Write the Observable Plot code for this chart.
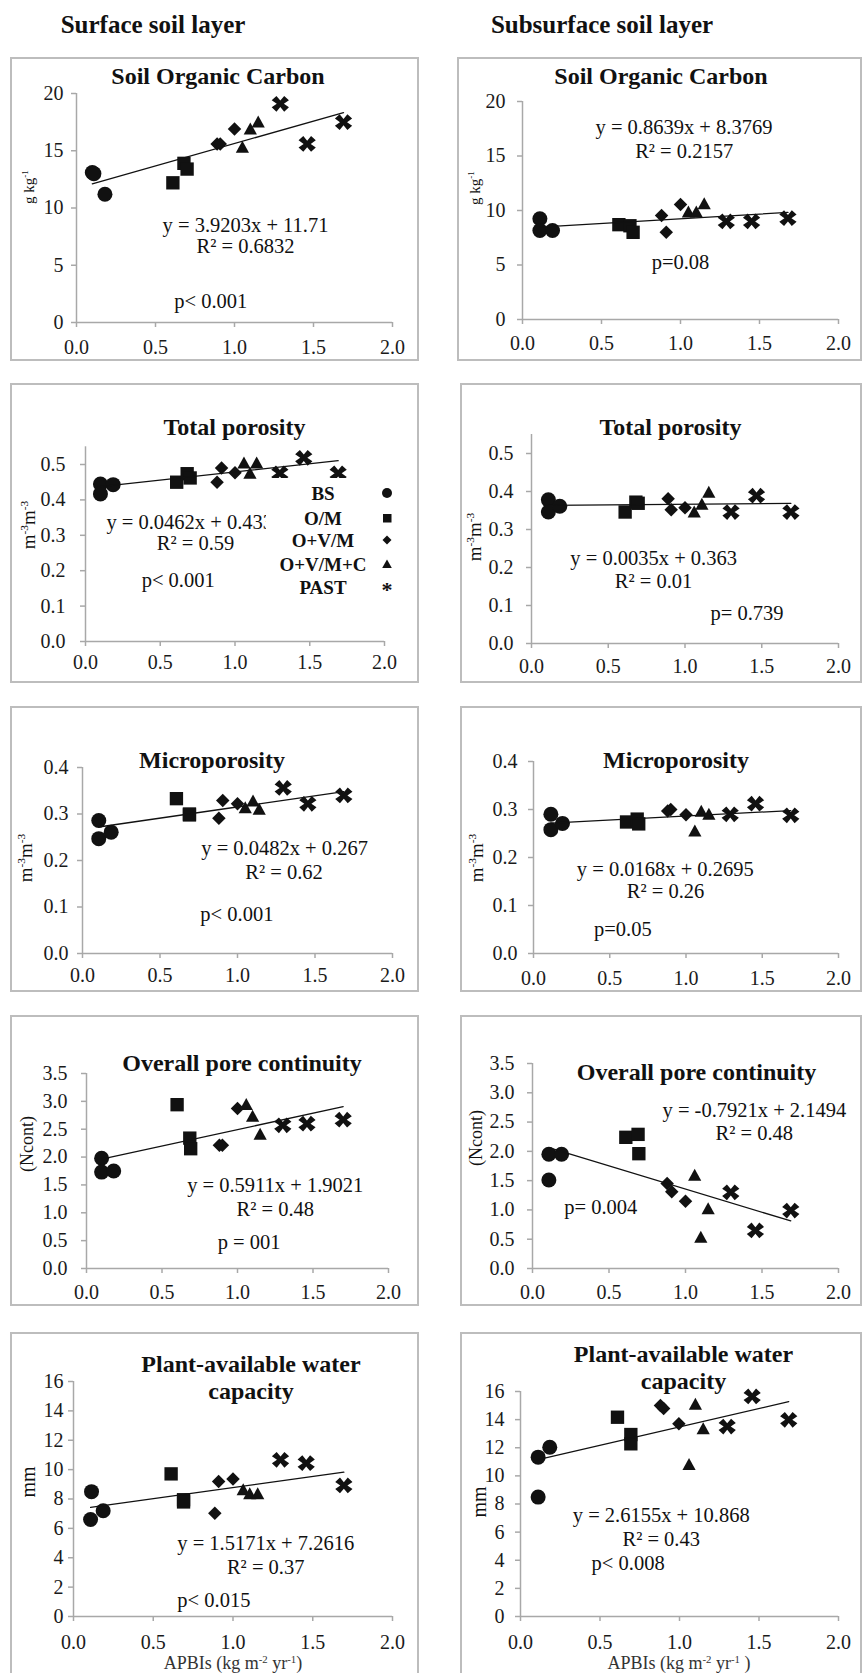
<!DOCTYPE html>
<html><head><meta charset="utf-8">
<script src="https://cdn.jsdelivr.net/npm/d3@7"></script>
<script src="https://cdn.jsdelivr.net/npm/@observablehq/plot@0.6"></script>
<style>
body{margin:0;background:#fff;}
#root{position:relative;width:862px;height:1673px;overflow:hidden;font-family:"Liberation Serif","Times New Roman",serif;color:#111;background:#fff;}
.box{position:absolute;box-sizing:border-box;border:2px solid #bdbdbd;}
.abs{position:absolute;white-space:nowrap;line-height:1;transform:translate(-50%,-50%);}
.rot{transform:translate(-50%,-50%) rotate(-90deg);}
.title{font-weight:bold;font-size:24px;}
.head{font-weight:bold;font-size:25px;}
.leg{font-weight:bold;font-size:19px;}
sup{font-size:0.6em;vertical-align:0.6em;line-height:0;}
</style></head><body><div id="root"></div>
<script>
// ---------------- DATA ----------------
const groupNames = ["BS", "O/M", "O+V/M", "O+V/M+C", "PAST"];
const groups = ["BS","BS","BS","O/M","O/M","O/M","O+V/M","O+V/M","O+V/M","O+V/M+C","O+V/M+C","O+V/M+C","PAST","PAST","PAST"];
const xTicks = [0, 0.5, 1.0, 1.5, 2.0];

// Soil organic carbon (g kg-1)
const socSurfX = [0.10, 0.18, 0.11, 0.61, 0.68, 0.70, 0.89, 0.91, 1.00, 1.05, 1.10, 1.15, 1.29, 1.46, 1.69];
const socSurfY = [13.1, 11.2, 13.0, 12.2, 13.9, 13.4, 15.6, 15.6, 16.9, 15.3, 16.9, 17.5, 19.1, 15.6, 17.5];
const socSubX  = [0.11, 0.11, 0.19, 0.61, 0.68, 0.70, 0.88, 0.91, 1.00, 1.05, 1.10, 1.15, 1.29, 1.45, 1.68];
const socSubY  = [9.24, 8.17, 8.17, 8.7, 8.6, 8.0, 9.54, 8.0, 10.55, 9.85, 9.85, 10.6, 9.0, 9.0, 9.3];
// Total porosity (m3 m-3)
const tpSurfX = [0.10, 0.10, 0.185, 0.61, 0.68, 0.70, 0.88, 0.91, 1.00, 1.06, 1.10, 1.145, 1.30, 1.46, 1.69];
const tpSurfY = [0.445, 0.417, 0.443, 0.450, 0.474, 0.462, 0.450, 0.490, 0.477, 0.504, 0.475, 0.504, 0.475, 0.519, 0.475];
const tpSubX  = [0.11, 0.11, 0.184, 0.61, 0.68, 0.695, 0.89, 0.91, 1.00, 1.06, 1.11, 1.155, 1.30, 1.466, 1.69];
const tpSubY  = [0.378, 0.346, 0.361, 0.346, 0.372, 0.369, 0.381, 0.352, 0.357, 0.346, 0.366, 0.398, 0.346, 0.389, 0.346];
// Microporosity (m3 m-3)
const mpSurfX = [0.105, 0.105, 0.185, 0.606, 0.69, 0.69, 0.88, 0.905, 1.00, 1.05, 1.10, 1.14, 1.295, 1.454, 1.686];
const mpSurfY = [0.286, 0.247, 0.261, 0.333, 0.298, 0.300, 0.291, 0.329, 0.322, 0.313, 0.328, 0.310, 0.356, 0.322, 0.340];
const mpSubX  = [0.114, 0.114, 0.19, 0.61, 0.68, 0.69, 0.88, 0.90, 1.00, 1.058, 1.10, 1.15, 1.29, 1.456, 1.687];
const mpSubY  = [0.290, 0.258, 0.271, 0.274, 0.280, 0.270, 0.297, 0.300, 0.289, 0.255, 0.296, 0.290, 0.290, 0.312, 0.288];
// Overall pore continuity (Ncont)
const pcSurfX = [0.10, 0.10, 0.18, 0.60, 0.684, 0.69, 0.88, 0.90, 1.00, 1.058, 1.10, 1.15, 1.30, 1.46, 1.70];
const pcSurfY = [1.98, 1.73, 1.75, 2.94, 2.34, 2.15, 2.21, 2.21, 2.87, 2.94, 2.73, 2.41, 2.57, 2.60, 2.67];
const pcSubX  = [0.107, 0.107, 0.19, 0.61, 0.69, 0.695, 0.88, 0.91, 1.00, 1.06, 1.10, 1.148, 1.296, 1.457, 1.688];
const pcSubY  = [1.95, 1.51, 1.95, 2.24, 2.29, 1.96, 1.45, 1.31, 1.15, 1.59, 0.53, 1.02, 1.30, 0.65, 0.99];
// Plant-available water capacity (mm)
const pawSurfX = [0.113, 0.107, 0.186, 0.612, 0.69, 0.69, 0.886, 0.91, 1.00, 1.064, 1.105, 1.155, 1.298, 1.459, 1.695];
const pawSurfY = [8.5, 6.6, 7.2, 9.71, 7.95, 7.8, 7.03, 9.19, 9.37, 8.62, 8.35, 8.35, 10.67, 10.44, 8.92];
const pawSubX  = [0.111, 0.111, 0.184, 0.61, 0.694, 0.694, 0.88, 0.90, 0.996, 1.06, 1.10, 1.149, 1.30, 1.457, 1.687];
const pawSubY  = [11.33, 8.49, 12.04, 14.17, 12.94, 12.28, 15.0, 14.8, 13.7, 10.81, 15.08, 13.35, 13.51, 15.65, 13.99];

// Trend lines (slope, intercept) as printed
const slopes     = [3.9203, 0.8639, 0.0462, 0.0035, 0.0482, 0.0168, 0.5911, -0.7921, 1.5171, 2.6155];
const intercepts = [11.71, 8.3769, 0.433, 0.363, 0.267, 0.2695, 1.9021, 2.1494, 7.2616, 10.868];
const eqLabels = ["y = 3.9203x + 11.71", "y = 0.8639x + 8.3769", "y = 0.0462x + 0.433", "y = 0.0035x + 0.363",
  "y = 0.0482x + 0.267", "y = 0.0168x + 0.2695", "y = 0.5911x + 1.9021", "y = -0.7921x + 2.1494",
  "y = 1.5171x + 7.2616", "y = 2.6155x + 10.868"];
const r2Labels = ["R² = 0.6832", "R² = 0.2157", "R² = 0.59", "R² = 0.01", "R² = 0.62", "R² = 0.26",
  "R² = 0.48", "R² = 0.48", "R² = 0.37", "R² = 0.43"];
const pLabels = ["p< 0.001", "p=0.08", "p< 0.001", "p= 0.739", "p< 0.001", "p=0.05", "p = 001", "p= 0.004", "p< 0.015", "p< 0.008"];
const titles = ["Soil Organic Carbon", "Soil Organic Carbon", "Total porosity", "Total porosity", "Microporosity", "Microporosity",
  "Overall pore continuity", "Overall pore continuity", "Plant-available water|capacity", "Plant-available water|capacity"];
const yLabels = ["g kg<sup>-1</sup>", "g kg<sup>-1</sup>", "m<sup>-3</sup>m<sup>-3</sup>", "m<sup>-3</sup>m<sup>-3</sup>",
  "m<sup>-3</sup>m<sup>-3</sup>", "m<sup>-3</sup>m<sup>-3</sup>", "(Ncont)", "(Ncont)", "mm", "mm"];
const headers = ["Surface soil layer", "Subsurface soil layer"];
const xLabels = ["APBIs (kg m<sup>-2</sup> yr<sup>-1</sup>)", "APBIs (kg m<sup>-2</sup> yr<sup>-1</sup> )"];

// ---------------- LAYOUT ----------------
const seriesX = [socSurfX, socSubX, tpSurfX, tpSubX, mpSurfX, mpSubX, pcSurfX, pcSubX, pawSurfX, pawSubX];
const seriesY = [socSurfY, socSubY, tpSurfY, tpSubY, mpSurfY, mpSubY, pcSurfY, pcSubY, pawSurfY, pawSubY];
const layout = [
  {box:[10,57,419,361], x0:76, x2:392, yTop:93, y0:322, ydom:[0,20], yticks:[0,5,10,15,20], yfmt:"d", yPad:8, xPad:12,
   eq:[1.07,8.5,"middle"], r2:[1.07,6.6], p:[0.85,1.8], title:[218,76], ylab:[29,187,15]},
  {box:[457,57,862,361], x0:522, x2:838, yTop:101, y0:319, ydom:[0,20], yticks:[0,5,10,15,20], yfmt:"d", yPad:12, xPad:11,
   eq:[1.022,17.64,"middle"], r2:[1.023,15.44], p:[1.0,5.26], title:[661,76], ylab:[475,188,15]},
  {box:[10,383,419,683], x0:85, x2:384, yTop:446.3, y0:641, ydom:[0,0.55], yticks:[0,0.1,0.2,0.3,0.4,0.5], yfmt:".1f", yPad:15, xPad:8.5,
   eq:[0.14,0.337,"start"], r2:[0.736,0.276], p:[0.62,0.172], title:[234.5,427], ylab:[27.5,525,19]},
  {box:[460,383,862,683], x0:531, x2:838, yTop:434, y0:643, ydom:[0,0.55], yticks:[0,0.1,0.2,0.3,0.4,0.5], yfmt:".1f", yPad:13, xPad:10.5,
   eq:[0.796,0.223,"middle"], r2:[0.795,0.164], p:[1.404,0.08], title:[670.5,427], ylab:[474,537,19]},
  {box:[10,706,419,992], x0:82, x2:392, yTop:767, y0:953, ydom:[0,0.4], yticks:[0,0.1,0.2,0.3,0.4], yfmt:".1f", yPad:9, xPad:9.5,
   eq:[1.304,0.225,"middle"], r2:[1.30,0.175], p:[0.996,0.085], title:[212,759.5], ylab:[25,858,19]},
  {box:[460,706,862,992], x0:533, x2:838, yTop:761, y0:953, ydom:[0,0.4], yticks:[0,0.1,0.2,0.3,0.4], yfmt:".1f", yPad:11, xPad:12.5,
   eq:[0.864,0.176,"middle"], r2:[0.866,0.13], p:[0.586,0.051], title:[676,759.5], ylab:[476,858,19]},
  {box:[10,1015,419,1306], x0:86, x2:388, yTop:1073, y0:1268, ydom:[0,3.5], yticks:[0,0.5,1,1.5,2,2.5,3,3.5], yfmt:".1f", yPad:14, xPad:11.5,
   eq:[1.25,1.49,"middle"], r2:[1.25,1.06], p:[1.077,0.47], title:[242,1063], ylab:[26.7,1144,18]},
  {box:[460,1015,862,1306], x0:532, x2:838, yTop:1063, y0:1268, ydom:[0,3.5], yticks:[0,0.5,1,1.5,2,2.5,3,3.5], yfmt:".1f", yPad:13, xPad:11.3,
   eq:[1.45,2.70,"middle"], r2:[1.45,2.30], p:[0.446,1.05], title:[696.5,1072], ylab:[476,1138,18]},
  {box:[10,1332,419,1690], x0:73, x2:392, yTop:1381, y0:1616, ydom:[0,16], yticks:[0,2,4,6,8,10,12,14,16], yfmt:"d", yPad:5, xPad:13.3,
   eq:[1.205,4.95,"middle"], r2:[1.205,3.36], p:[0.88,1.09], title:[251,1364,1391], ylab:[27.5,1482,20], xlab:[233,1663]},
  {box:[460,1332,862,1690], x0:520, x2:838, yTop:1391, y0:1616, ydom:[0,16], yticks:[0,2,4,6,8,10,12,14,16], yfmt:"d", yPad:11, xPad:13.3,
   eq:[0.885,7.18,"middle"], r2:[0.885,5.45], p:[0.677,3.75], title:[683.5,1354,1381], ylab:[478.5,1502,20], xlab:[679,1663]}
];
const headerPos = [[153,23.5],[602,23.5]];
const legendPos = {box:[266,478,136,122], labelX:323, symX:387, rows:[493,518,540,564,587]};

// ---------------- SYMBOLS ----------------
const symCircle = {draw(c, s){const r=Math.sqrt(s/Math.PI); c.moveTo(r,0); c.arc(0,0,r,0,2*Math.PI);}};
const symSquare = {draw(c, s){const r=Math.sqrt(s/Math.PI)*0.89; c.rect(-r,-r,2*r,2*r);}};
const symDiamond = {draw(c, s){const r=Math.sqrt(s/Math.PI)*0.9; c.moveTo(0,-r); c.lineTo(r,0); c.lineTo(0,r); c.lineTo(-r,0); c.closePath();}};
const symTriangle = {draw(c, s){const r=Math.sqrt(s/Math.PI); c.moveTo(0,-0.88*r); c.lineTo(0.88*r,0.72*r); c.lineTo(-0.88*r,0.72*r); c.closePath();}};
const symX = {draw(c, s){const r=Math.sqrt(s/Math.PI), sx=r*1.15, sy=r*1.05, a=0.55;
  const pts=[[-1,-1+a],[-1+a,-1],[0,-a*0.75],[1-a,-1],[1,-1+a],[a*0.75,0],[1,1-a],[1-a,1],[0,a*0.75],[-1+a,1],[-1,1-a],[-a*0.75,0]];
  c.moveTo(pts[0][0]*sx, pts[0][1]*sy); for (let i=1;i<pts.length;i++) c.lineTo(pts[i][0]*sx, pts[i][1]*sy); c.closePath();}};
const symbolFor = {"BS": symCircle, "O/M": symSquare, "O+V/M": symDiamond, "O+V/M+C": symTriangle, "PAST": symX};

// ---------------- DRAW ----------------
const root = document.getElementById("root");
const axisGrey = "#a8a8a8";
const serif = '"Liberation Serif","Times New Roman",serif';
function addText(html, x, y, cls, extra) {
  const d = document.createElement("div");
  d.className = "abs " + (cls || "");
  d.innerHTML = html;
  d.style.left = x + "px"; d.style.top = y + "px";
  if (extra) Object.assign(d.style, extra);
  root.appendChild(d);
  return d;
}

layout.forEach((L, i) => {
  const [bl, bt, br, bb] = L.box;
  const box = document.createElement("div");
  box.className = "box";
  Object.assign(box.style, {left: bl+"px", top: bt+"px", width: (br-bl)+"px", height: (bb-bt)+"px"});
  root.appendChild(box);

  const data = seriesX[i].map((x, j) => ({x, y: seriesY[i][j], g: groups[j]}));
  const ext = d3.extent(seriesX[i]);
  const trend = ext.map(x => ({x, y: slopes[i]*x + intercepts[i]}));
  const marks = [
    Plot.ruleX([0], {stroke: axisGrey, strokeWidth: 1.5}),
    Plot.ruleY([0], {stroke: axisGrey, strokeWidth: 1.5}),
    Plot.axisX({ticks: xTicks, tickFormat: d3.format(".1f"), tickSize: 5, tickPadding: L.xPad, stroke: axisGrey, strokeWidth: 1.5, fill: "#1a1a1a", fontSize: 20, fontFamily: serif, label: null}),
    Plot.axisY({ticks: L.yticks, tickFormat: d3.format(L.yfmt), tickSize: 5, tickPadding: L.yPad, stroke: axisGrey, strokeWidth: 1.5, fill: "#1a1a1a", fontSize: 20, fontFamily: serif, label: null}),
    ...groupNames.map(gn => Plot.dot(data.filter(d => d.g === gn), {x: "x", y: "y", r: 7.5, symbol: symbolFor[gn], fill: "#111", stroke: "none"})),
    Plot.line(trend, {x: "x", y: "y", stroke: "#111", strokeWidth: 1.3}),
    Plot.text([{x: L.eq[0], y: L.eq[1], t: eqLabels[i]}], {x: "x", y: "y", text: "t", textAnchor: L.eq[2], fontSize: 20.5, fontFamily: serif, fill: "#111"}),
    Plot.text([{x: L.r2[0], y: L.r2[1], t: r2Labels[i]}], {x: "x", y: "y", text: "t", fontSize: 20.5, fontFamily: serif, fill: "#111"}),
    Plot.text([{x: L.p[0], y: L.p[1], t: pLabels[i]}], {x: "x", y: "y", text: "t", fontSize: 20.5, fontFamily: serif, fill: "#111"})
  ];
  const svg = Plot.plot({
    width: br - bl, height: bb - bt,
    marginLeft: L.x0 - bl, marginRight: br - L.x2, marginTop: L.yTop - bt, marginBottom: bb - L.y0,
    x: {domain: [0, 2]}, y: {domain: L.ydom},
    style: 'font-family: "Liberation Serif","Times New Roman",serif; background: transparent; overflow: visible;',
    marks
  });
  Object.assign(svg.style, {position: "absolute", left: bl + "px", top: bt + "px"});
  root.appendChild(svg);

  // title
  const tparts = titles[i].split("|");
  if (tparts.length === 1) addText(tparts[0], L.title[0], L.title[1], "title");
  else { addText(tparts[0], L.title[0], L.title[1], "title"); addText(tparts[1], L.title[0], L.title[2], "title"); }
  // y label
  addText(yLabels[i], L.ylab[0], L.ylab[1], "rot", {fontSize: L.ylab[2] + "px"});
  if (L.xlab) addText(xLabels[i - 8], L.xlab[0], L.xlab[1], "", {fontSize: "18px", color: "#333"});
});

headers.forEach((h, i) => addText(h, headerPos[i][0], headerPos[i][1], "head"));

// legend (in Total porosity surface panel)
const lg = document.createElement("div");
Object.assign(lg.style, {position: "absolute", left: legendPos.box[0]+"px", top: legendPos.box[1]+"px", width: legendPos.box[2]+"px", height: legendPos.box[3]+"px", background: "#fff"});
root.appendChild(lg);
const legSvg = {
  "BS": '<circle cx="6" cy="6" r="5"/>',
  "O/M": '<rect x="2" y="2" width="8.5" height="8.5"/>',
  "O+V/M": '<path d="M6,1.5L10.5,6L6,10.5L1.5,6Z"/>',
  "O+V/M+C": '<path d="M6,1.5L10.8,10L1.2,10Z"/>'
};
groupNames.forEach((gn, k) => {
  addText(gn, legendPos.labelX, legendPos.rows[k], "leg");
  if (legSvg[gn]) addText('<svg width="12" height="12" style="display:block" fill="#111">' + legSvg[gn] + '</svg>', legendPos.symX, legendPos.rows[k], "");
  else addText("*", legendPos.symX, legendPos.rows[k] + 3, "", {fontSize: "22px", fontWeight: "bold"});
});
</script></body></html>
